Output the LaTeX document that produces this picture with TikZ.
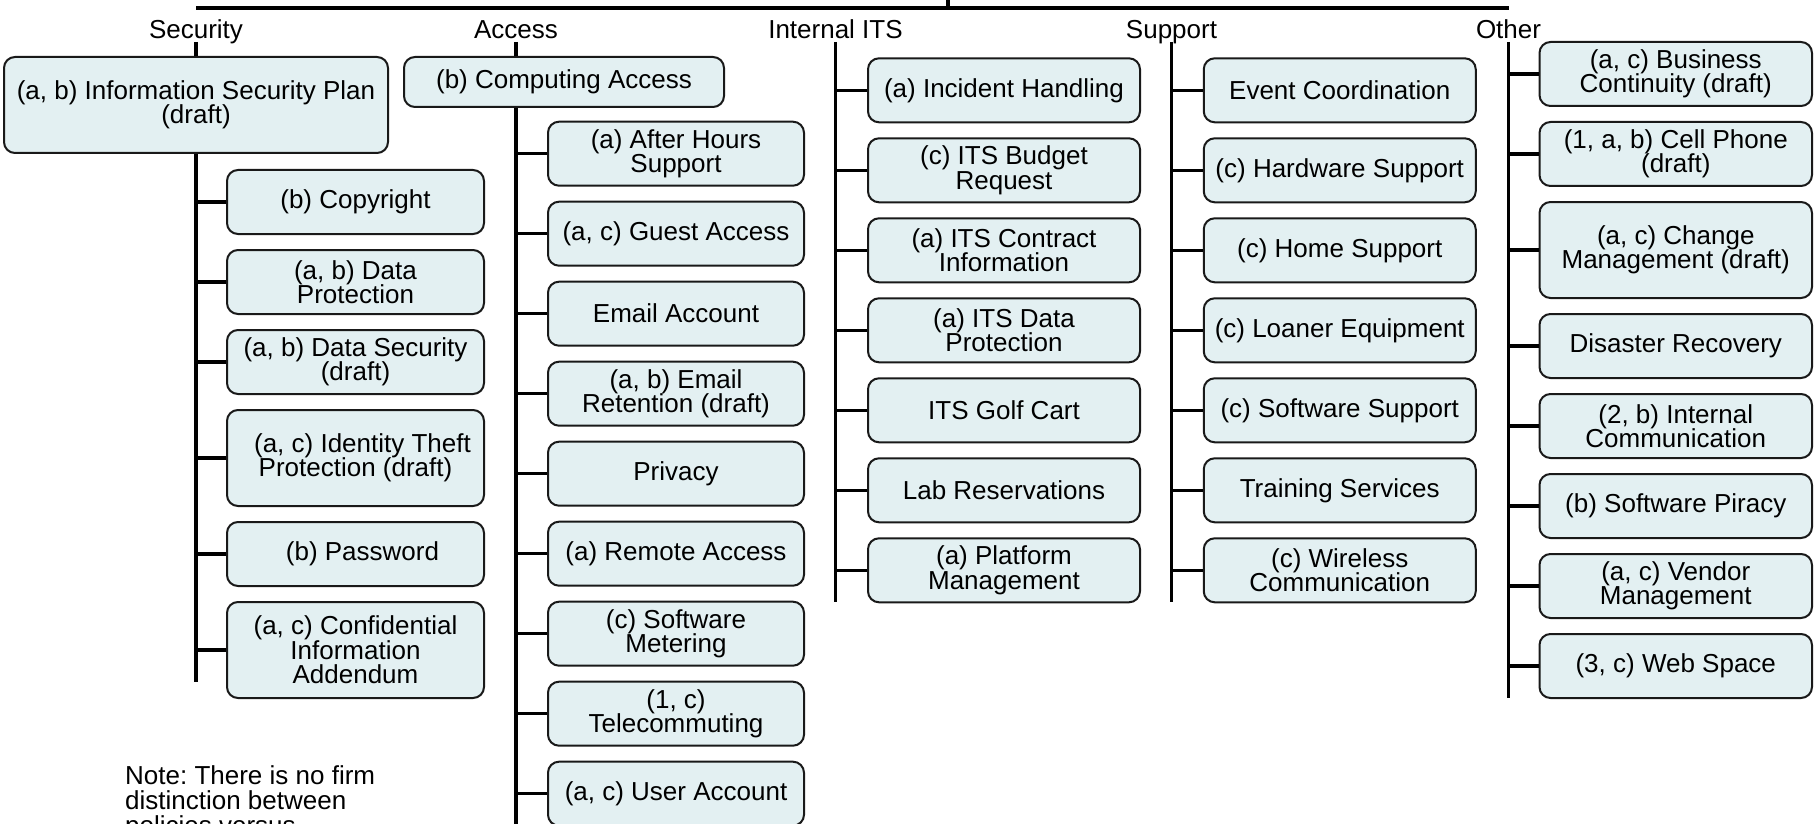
\documentclass[tikz,border=0pt]{standalone}
\usepackage{fontspec}
\setmainfont{Liberation Sans}
\frenchspacing
\definecolor{boxfill}{RGB}{227,240,242}
\definecolor{boxline}{RGB}{25,25,25}
\tikzset{
  pbox/.style={draw=boxline, line width=2pt, rounded corners=11pt, fill=boxfill,
    inner sep=0pt, align=center, minimum height=64pt,
    font=\fontsize{26}{24.5}\selectfont},
  tallbox/.style={minimum height=96pt},
  secw/.style={pbox, minimum width=257pt},
  accw/.style={pbox, minimum width=256pt},
  itsw/.style={pbox, minimum width=272pt},
  othw/.style={pbox, minimum width=272.5pt},
  lbl/.style={inner sep=0pt, anchor=base, font=\fontsize{26}{24.5}\selectfont},
  bus/.style={line width=3.5pt, draw=black},
}
\begin{document}
\begin{tikzpicture}[x=1pt,y=-1pt]
\useasboundingbox (0,0) rectangle (1816,824);
\clip (0,0) rectangle (1816,824);

% top bus
\coordinate (root) at (948,-10);
\coordinate (busL) at (196,8);
\coordinate (busR) at (1508.5,8);
\draw[bus] (busL) -- (busR);
\draw[bus] (root) -- (root |- busL);

% column labels
\node[lbl] (seclbl) at (196,38.5) {Security};
\node[lbl] (acclbl) at (516,38.5) {Access};
\node[lbl] (itslbl) at (835.5,38.5) {Internal ITS};
\node[lbl] (suplbl) at (1171.5,38.5) {Support};
\node[lbl] (othlbl) at (1508.5,38.5) {Other};

% column bus coordinates
\coordinate (secTop) at (196,42);   \coordinate (secEnd) at (196,682);
\coordinate (accTop) at (516,42);   \coordinate (accEnd) at (516,830);
\coordinate (itsTop) at (835.5,42); \coordinate (itsEnd) at (835.5,602);
\coordinate (supTop) at (1171.5,42);\coordinate (supEnd) at (1171.5,602);
\coordinate (othTop) at (1508.5,42);\coordinate (othEnd) at (1508.5,698);

% Security
\node[pbox, tallbox, minimum width=384pt] (secplan) at (196,105) {(a, b) Information Security Plan\\(draft)};
\node[secw] (copyright) at (355.5,202) {(b) Copyright};
\node[secw] (dataprot) at (355.5,282) {(a, b) Data\\Protection};
\node[secw] (datasec) at (355.5,362) {(a, b) Data Security\\(draft)};
\node[secw, tallbox] (identity) at (355.5,458) {\hspace*{14pt}(a, c) Identity Theft\\Protection (draft)};
\node[secw] (password) at (355.5,554) {\hspace*{14pt}(b) Password};
\node[secw, tallbox] (confid) at (355.5,650) {(a, c) Confidential\\Information\\Addendum};

% Access
\node[pbox, minimum width=320pt, minimum height=50pt] (computing) at (564,82) {(b) Computing Access};
\node[accw] (afterhours) at (676,153.7) {(a) After Hours\\Support};
\node[accw] (guest) at (676,233.7) {(a, c) Guest Access};
\node[accw] (email) at (676,313.7) {Email Account};
\node[accw] (retention) at (676,393.7) {(a, b) Email\\Retention (draft)};
\node[accw] (privacy) at (676,473.7) {Privacy};
\node[accw] (remote) at (676,553.7) {(a) Remote Access};
\node[accw] (metering) at (676,633.7) {(c) Software\\Metering};
\node[accw] (telecom) at (676,713.7) {(1, c)\\Telecommuting};
\node[accw] (useracc) at (676,793.7) {(a, c) User Account};

% Internal ITS
\node[itsw] (incident) at (1004,90.3) {(a) Incident Handling};
\node[itsw] (budget) at (1004,170.3) {(c) ITS Budget\\Request};
\node[itsw] (contract) at (1004,250.3) {(a) ITS Contract\\Information};
\node[itsw] (itsdata) at (1004,330.3) {(a) ITS Data\\Protection};
\node[itsw] (golf) at (1004,410.3) {ITS Golf Cart};
\node[itsw] (lab) at (1004,490.3) {Lab Reservations};
\node[itsw] (platform) at (1004,570.3) {(a) Platform\\Management};

% Support
\node[itsw] (event) at (1339.75,90.3) {Event Coordination};
\node[itsw] (hardware) at (1339.75,170.3) {(c) Hardware Support};
\node[itsw] (home) at (1339.75,250.3) {(c) Home Support};
\node[itsw] (loaner) at (1339.75,330.3) {(c) Loaner Equipment};
\node[itsw] (software) at (1339.75,410.3) {(c) Software Support};
\node[itsw] (training) at (1339.75,490.3) {Training Services};
\node[itsw] (wireless) at (1339.75,570.3) {(c) Wireless\\Communication};

% Other
\node[othw] (business) at (1675.75,74) {(a, c) Business\\Continuity (draft)};
\node[othw] (cell) at (1675.75,154) {(1, a, b) Cell Phone\\(draft)};
\node[othw, tallbox] (change) at (1675.75,250) {(a, c) Change\\Management (draft)};
\node[othw] (disaster) at (1675.75,346) {Disaster Recovery};
\node[othw] (intcomm) at (1675.75,426) {(2, b) Internal\\Communication};
\node[othw] (piracy) at (1675.75,506) {(b) Software Piracy};
\node[othw] (vendor) at (1675.75,586) {(a, c) Vendor\\Management};
\node[othw] (web) at (1675.75,666) {(3, c) Web Space};

% column connectors
\draw[bus] (secTop) -- (secplan.north);
\draw[bus] (secplan.south) -- (secEnd);
\foreach \n in {copyright,dataprot,datasec,identity,password,confid}
  \draw[bus] (\n.west) -- (\n.west -| secEnd);

\draw[bus] (accTop) -- (accTop |- computing.north);
\draw[bus] (accTop |- computing.south) -- (accEnd);
\foreach \n in {afterhours,guest,email,retention,privacy,remote,metering,telecom,useracc}
  \draw[bus] (\n.west) -- (\n.west -| accEnd);

\draw[bus] (itsTop) -- (itsEnd);
\foreach \n in {incident,budget,contract,itsdata,golf,lab,platform}
  \draw[bus] (\n.west) -- (\n.west -| itsEnd);

\draw[bus] (supTop) -- (supEnd);
\foreach \n in {event,hardware,home,loaner,software,training,wireless}
  \draw[bus] (\n.west) -- (\n.west -| supEnd);

\draw[bus] (othTop) -- (othEnd);
\foreach \n in {business,cell,change,disaster,intcomm,piracy,vendor,web}
  \draw[bus] (\n.west) -- (\n.west -| othEnd);

% note (base anchor = baseline of last line); cut off at the bottom edge as in the reference
\node[inner sep=0pt, anchor=base west, align=left, font=\fontsize{26}{25}\selectfont] (note) at (125,834)
  {Note: There is no firm\\distinction between\\policies versus};
\end{tikzpicture}
\end{document}
